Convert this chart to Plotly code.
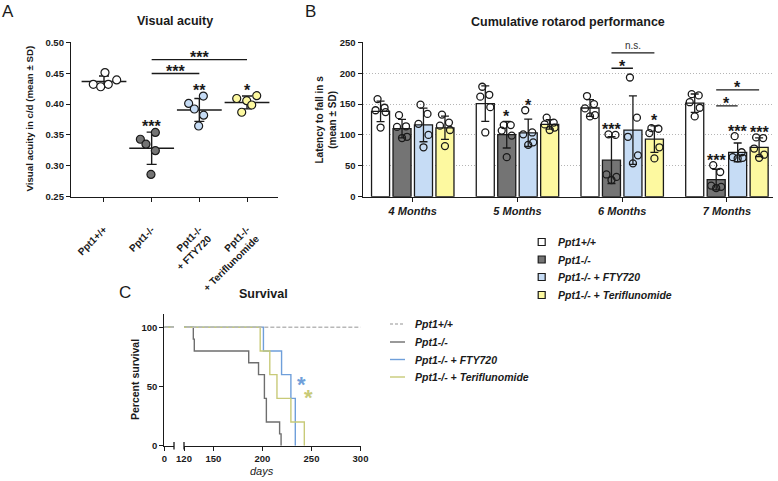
import numpy as np
import plotly.graph_objects as go

W, H = 778, 481
FONT = "Liberation Sans"
INK = "#1a1a1a"

# ---------------- Panel A: visual acuity ----------------
ACUITY_GROUPS = ["Ppt1+/+", "Ppt1-/-", "Ppt1-/-<br>+ FTY720", "Ppt1-/-<br>+ Teriflunomide"]
ACUITY_WT = [0.451, 0.439, 0.432, 0.428, 0.432]
ACUITY_KO = [0.354, 0.343, 0.335, 0.3245, 0.286]
ACUITY_FTY = [0.413, 0.401, 0.392, 0.382, 0.3645]
ACUITY_TERI = [0.409, 0.4135, 0.4055, 0.3985, 0.3867]
ACUITY_SIG = ["", "***", "**", "*"]
ACUITY_BRACKETS = [(1, 2, 0.4495, "***"), (1, 3, 0.4718, "***")]
ACUITY_TICKS = [0.25, 0.30, 0.35, 0.40, 0.45, 0.50]

# ---------------- Panel B: rotarod ----------------
MONTHS = ["4 Months", "5 Months", "6 Months", "7 Months"]
ROT_WT = [[158, 144, 140, 137, 112], [178, 165, 162, 145, 104],
          [163, 150, 143, 132, 130], [166, 164, 153, 144, 130]]
ROT_KO = [[132, 114, 113, 97, 95], [116, 116, 107, 99, 64],
          [101, 100, 36, 32, 27], [51, 40, 18, 16, 14]]
ROT_FTY = [[149, 134, 118, 100, 80], [140, 104, 101, 88, 84],
           [193, 128, 97, 67, 54], [98, 72, 64, 63, 62]]
ROT_TERI = [[133, 120, 115, 108, 82], [128, 120, 117, 112, 108],
            [111, 110, 103, 80, 62], [96, 95, 78, 68, 63]]
ROT_SIG = [["", "", "", ""], ["", "*", "***", "***"],
           ["", "*", "", "***"], ["", "", "*", "***"]]
# (month index, group a, group b, y, label)
ROT_BRACKETS = [(2, 1, 2, 208, "*"), (2, 1, 3, 233, "n.s."),
                (3, 1, 2, 147, "*"), (3, 1, 3, 173, "*")]
ROT_TICKS = [0, 50, 100, 150, 200, 250]

# ---------------- Panel C: survival ----------------
SURV_WT_DAYS = [0, 300]
SURV_WT_PCT = [100, 100]
SURV_KO_DAYS = [0, 129.5, 130.5, 186, 196, 202, 204, 217.5, 219]
SURV_KO_PCT = [100, 90, 80, 70, 60, 40, 20, 10, 0]
SURV_FTY_DAYS = [0, 201, 219.5, 229, 233.5]
SURV_FTY_PCT = [100, 80, 60, 40, 0]
SURV_TERI_DAYS = [0, 197.7, 207.5, 214.8, 229, 242.7]
SURV_TERI_PCT = [100, 80, 60, 40, 20, 0]
SURV_SIG = [(240.3, 56, "*"), (247, 45, "*")]
SURV_TICKS = [120, 150, 200, 250, 300]

LEGEND_LABELS = ["Ppt1+/+", "Ppt1-/-", "Ppt1-/- + FTY720", "Ppt1-/- + Teriflunomide"]

# ---------------- styles ----------------
FILL = ["#ffffff", "#747474", "#c6dcf5", "#fdf9a0"]
SURV_COLORS = ["#b8b8b8", "#6e6e6e", "#6f9fda", "#c8ca78"]
JITTER_A = [[1, 12.7, -10.7, -3.3, 4.3], [3.7, -11.3, -5.7, 3.7, -0.7],
            [4, -10.7, -5, 4.3, -0.7], [-10.3, 9.7, -0.3, 4.7, -5.3]]
JITTER_B = [-3, 4, -5, 5, 0]


def px(p):
    return p / W


def py(p):
    return 1 - p / H


TOP, BOT = 42.3, 196.7
A_L, A_R = 71, 278
A_RANGE = [-0.692, 3.65]
A_UNIT = (A_R - A_L) / (A_RANGE[1] - A_RANGE[0])

B_L, B_R = 362.7, 773
B_RANGE = [-0.478, 3.44]
B_UNIT = (B_R - B_L) / (B_RANGE[1] - B_RANGE[0])
BARGAP, GROUPGAP = 0.18, 0.16
SLOT = (1 - BARGAP) / 4

C_TOP, C_BOT = 314.3, 445.7
C_YRANGE = [0, 100 * (C_BOT - C_TOP) / (445.7 - 327.3)]

fig = go.Figure()

# ---------------- Panel A traces ----------------
acuity = [ACUITY_WT, ACUITY_KO, ACUITY_FTY, ACUITY_TERI]
for i, vals in enumerate(acuity):
    m = float(np.mean(vals))
    s = float(np.std(vals, ddof=1))
    fig.add_trace(go.Scatter(
        x=[i], y=[m], mode="markers", xaxis="x", yaxis="y",
        marker=dict(symbol="line-ew", size=32, color=INK, line=dict(width=1.5, color=INK)),
        error_y=dict(type="data", array=[s], width=5, thickness=1.4, color=INK),
        showlegend=False, hoverinfo="skip"))
    fig.add_trace(go.Scatter(
        x=[i + j / A_UNIT for j in JITTER_A[i]], y=vals, mode="markers",
        xaxis="x", yaxis="y",
        marker=dict(size=8, color=FILL[i], line=dict(width=1.2, color=INK)),
        showlegend=False, hoverinfo="skip"))

# ---------------- Panel B traces ----------------
rot = [ROT_WT, ROT_KO, ROT_FTY, ROT_TERI]
for j, series in enumerate(rot):
    means = [float(np.mean(v)) for v in series]
    sds = [float(np.std(v, ddof=1)) for v in series]
    fig.add_trace(go.Bar(
        x=list(range(len(MONTHS))), y=means, xaxis="x2", yaxis="y2",
        marker=dict(color=FILL[j], line=dict(color=INK, width=1.3)),
        error_y=dict(type="data", array=sds, width=4, thickness=1.3, color=INK),
        showlegend=False, hoverinfo="skip"))
for j, series in enumerate(rot):
    xs, ys = [], []
    for i, v in enumerate(series):
        for k, val in enumerate(v):
            xs.append(i + (j - 1.5) * SLOT + JITTER_B[k] / B_UNIT)
            ys.append(val)
    fig.add_trace(go.Scatter(
        x=xs, y=ys, mode="markers", xaxis="x2", yaxis="y2",
        marker=dict(size=7, color="rgba(0,0,0,0)", line=dict(width=1.3, color=INK)),
        showlegend=False, hoverinfo="skip"))

# ---------------- Panel C traces ----------------
surv = [(SURV_KO_DAYS, SURV_KO_PCT, 1), (SURV_FTY_DAYS, SURV_FTY_PCT, 2),
        (SURV_TERI_DAYS, SURV_TERI_PCT, 3), (SURV_WT_DAYS, SURV_WT_PCT, 0)]
for xa in ["x3", "x4"]:
    for d, p, c in surv:
        fig.add_trace(go.Scatter(
            x=d, y=p, mode="lines", line_shape="hv", xaxis=xa, yaxis="y3",
            line=dict(color=SURV_COLORS[c], width=1.4, dash="4px,2px" if c == 0 else "solid"),
            showlegend=False, hoverinfo="skip"))


# ---------------- annotations helpers ----------------
def text(x, y, s, size, xref="paper", yref="paper", bold=False, italic=False,
         color=INK, xanchor="center", angle=0, yshift=0):
    fig.add_annotation(x=x, y=y, xref=xref, yref=yref, text=s, showarrow=False,
                       textangle=angle, xanchor=xanchor, yanchor="middle", yshift=yshift,
                       font=dict(family=FONT, size=size, color=color,
                                 weight="bold" if bold else "normal",
                                 style="italic" if italic else "normal"))


def star(x, y, s, xref, yref, size=16, gap=0, color=INK):
    if s == "n.s.":
        text(x, y, s, 10, xref, yref, color="#333333", yshift=gap + 1)
    else:
        text(x, y, s, size, xref, yref, bold=True, color=color, yshift=gap - 0.24 * size)


shapes = []

# Panel A significance
for i, vals in enumerate(acuity):
    if ACUITY_SIG[i]:
        top = max(max(vals), float(np.mean(vals) + np.std(vals, ddof=1)))
        star(i, top, ACUITY_SIG[i], "x", "y", gap=9.5)
for a, b, yv, lab in ACUITY_BRACKETS:
    shapes.append(dict(type="line", xref="x", yref="y", x0=a, x1=b, y0=yv, y1=yv,
                       line=dict(color=INK, width=1.3)))
    star((a + b) / 2, yv, lab, "x", "y", gap=6)

# Panel B significance
for j, series in enumerate(rot):
    for i, v in enumerate(series):
        if ROT_SIG[j][i]:
            top = max(max(v), float(np.mean(v) + np.std(v, ddof=1)))
            star(i + (j - 1.5) * SLOT, top, ROT_SIG[j][i], "x2", "y2", gap=9)
for mi, a, b, yv, lab in ROT_BRACKETS:
    xa = mi + (a - 1.5) * SLOT
    xb = mi + (b - 1.5) * SLOT
    shapes.append(dict(type="line", xref="x2", yref="y2", x0=xa, x1=xb, y0=yv, y1=yv,
                       line=dict(color=INK, width=1.3)))
    star((xa + xb) / 2, yv, lab, "x2", "y2", gap=6)

# Panel C significance
for (xd, yv, lab), col in zip(SURV_SIG, [SURV_COLORS[2], SURV_COLORS[3]]):
    star(xd, yv, lab, "x4", "y3", size=22, color=col)

# axis-break marks in panel C
for xr, xv in [("x3 domain", 1), ("x4 domain", 0)]:
    shapes.append(dict(type="line", xref=xr, yref="paper", x0=xv, x1=xv,
                       y0=py(C_BOT + 3.8), y1=py(C_BOT - 3.8),
                       line=dict(color=INK, width=1.3)))

# legend for panel B
LB_ROWS = [242, 259.5, 277, 295]
for k, lab in enumerate(LEGEND_LABELS):
    yc = LB_ROWS[k]
    shapes.append(dict(type="rect", xref="paper", yref="paper",
                       x0=px(538.2), x1=px(545.2), y0=py(yc + 3.5), y1=py(yc - 3.5),
                       fillcolor=FILL[k], line=dict(color=INK, width=1.2)))
    text(px(556), py(yc), lab, 10.5, bold=True, italic=True, xanchor="left")

# legend for panel C
LC_ROWS = [324, 342, 359.5, 377]
for k, lab in enumerate(LEGEND_LABELS):
    yc = LC_ROWS[k]
    shapes.append(dict(type="line", xref="paper", yref="paper",
                       x0=px(390), x1=px(405), y0=py(yc), y1=py(yc),
                       line=dict(color=SURV_COLORS[k], width=1.4,
                                 dash="3px,2px" if k == 0 else "solid")))
    text(px(413.3), py(yc), lab, 10.5, bold=True, italic=True, xanchor="left")

# panel letters, titles, axis titles
text(px(8), py(11), "A", 17)
text(px(310), py(11), "B", 17)
text(px(125), py(292), "C", 17)
text(px(175), py(21), "Visual acuity", 12.5, bold=True)
text(px(568), py(21.5), "Cumulative rotarod performance", 12.5, bold=True)
text(px(263), py(294), "Survival", 12.5, bold=True)
text(px(28.5), py(119), "Visual acuity in c/d (mean ± SD)", 9.7, bold=True, angle=-90)
text(px(325), py(119.5), "Latency to fall in s<br>(mean ± SD)", 10, bold=True, angle=-90)
text(px(135), py(380), "Percent survival", 10.5, bold=True, angle=-90)
text(px(262), py(471), "days", 11, italic=True)

# ---------------- axes ----------------
TF = dict(family=FONT, size=9.5, color=INK, weight="bold")
common = dict(showline=True, linecolor=INK, linewidth=1.3, ticks="outside", ticklen=4,
              tickwidth=1.3, tickcolor=INK, showgrid=False, zeroline=False,
              tickfont=TF, fixedrange=True, automargin=False)
GRID = dict(showgrid=True, gridcolor="#b5b5b5", gridwidth=1, griddash="1px,2px")

fig.update_layout(
    width=W, height=H, margin=dict(l=0, r=0, t=0, b=0, pad=0, autoexpand=False),
    paper_bgcolor="white", plot_bgcolor="rgba(0,0,0,0)",
    barmode="group", bargap=BARGAP, bargroupgap=GROUPGAP,
    showlegend=False, shapes=shapes,
    font=dict(family=FONT, color=INK),
    xaxis=dict(common, domain=[px(A_L), px(A_R)], range=A_RANGE, anchor="y",
               tickvals=list(range(len(ACUITY_GROUPS))), ticktext=ACUITY_GROUPS,
               tickangle=-45, ticklabelstandoff=18,
               tickfont=dict(family=FONT, size=10, color=INK, weight="bold")),
    yaxis=dict(common, domain=[py(BOT), py(TOP)], range=[0.25, 0.50], anchor="x",
               tickvals=ACUITY_TICKS, tickformat=".2f"),
    yaxis5=dict(GRID, overlaying="y", anchor="x", range=[0.25, 0.50],
                tickvals=[0.30, 0.40, 0.50], showticklabels=False, ticks="",
                showline=False, zeroline=False, fixedrange=True, automargin=False),
    xaxis2=dict(common, domain=[px(B_L), px(B_R)], range=B_RANGE, anchor="y2",
                tickvals=list(range(len(MONTHS))), ticktext=MONTHS,
                tickfont=dict(family=FONT, size=11, color=INK, weight="bold", style="italic")),
    yaxis2=dict(common, **GRID, domain=[py(BOT), py(TOP)], range=[0, 250], anchor="x2",
                tickvals=ROT_TICKS),
    xaxis3=dict(common, domain=[px(164.3), px(174)], range=[0, 10], anchor="y3",
                tickvals=[0]),
    xaxis4=dict(common, domain=[px(184), px(361)], range=[120, 300.5], anchor="y3",
                tickvals=SURV_TICKS),
    yaxis3=dict(common, domain=[py(C_BOT), py(C_TOP)], range=C_YRANGE, anchor="x3",
                tickvals=[0, 50, 100]),
)

fig.write_html("out.html", config={"displayModeBar": False},
               post_script="document.body.style.margin='0';")
